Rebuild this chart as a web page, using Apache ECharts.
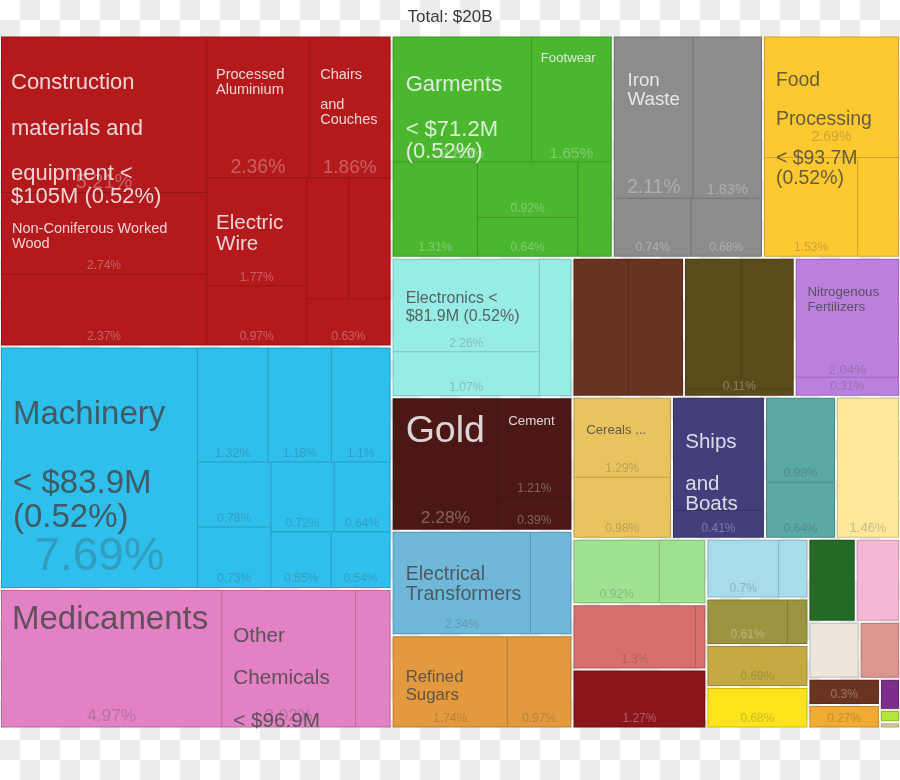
<!DOCTYPE html>
<html>
<head>
<meta charset="utf-8">
<script src="https://cdn.jsdelivr.net/npm/echarts@6/dist/echarts.min.js"></script>
<style>
html,body{margin:0;padding:0;}
body{width:900px;height:780px;overflow:hidden;background-color:#ffffff;
background-image:linear-gradient(45deg,#ececec 25%,transparent 25%,transparent 75%,#ececec 75%),linear-gradient(45deg,#ececec 25%,transparent 25%,transparent 75%,#ececec 75%);
background-size:40px 40px;background-position:0 0,20px 20px;}
#c{width:900px;height:780px;}
</style>
</head>
<body>
<div id="c"></div>
<script>
// ---------------- DATA ----------------
const titleText = "Total: $20B";

const groupNames = [
  "Construction materials and equipment", "Machinery", "Chemicals", "Textiles", "Metals",
  "Food Processing", "Electronics", "Category 8", "Category 9", "Fertilizers",
  "Gold and Cement", "Electrical Transformers", "Refined Sugars", "Cereals", "Ships and Boats",
  "Category 16", "Category 17", "Category 18", "Category 19", "Category 20",
  "Category 21", "Category 22", "Category 23", "Category 24", "Category 25",
  "Category 26", "Category 27", "Category 28", "Category 29", "Category 30",
  "Category 31", "Category 32", "Category 33"
];

// share of total exports (%), per product inside each group
const leafValues = [
  [5.21, 2.74, 2.37, 2.36, 1.86, 1.77, 0.97, 0.83, 0.82, 0.63],
  [7.69, 1.32, 1.18, 1.1, 0.78, 0.73, 0.72, 0.64, 0.55, 0.54],
  [4.97, 3.02, 0.78],
  [2.85, 1.65, 1.31, 0.92, 0.64, 0.52],
  [2.11, 1.83, 0.74, 0.68],
  [2.69, 1.53, 0.67],
  [2.26, 1.07, 0.72],
  [1.25, 1.24],
  [1.22, 1.14, 0.11],
  [2.04, 0.31],
  [2.28, 1.21, 0.39],
  [2.34, 0.69],
  [1.74, 0.97],
  [1.29, 0.98],
  [1.71, 0.41],
  [0.98, 0.64],
  [1.46],
  [0.92, 0.49],
  [1.3, 0.1],
  [1.27],
  [0.7, 0.28],
  [0.61, 0.15],
  [0.69],
  [0.68],
  [0.63],
  [0.59],
  [0.47],
  [0.37],
  [0.3],
  [0.27],
  [0.1],
  [0.04],
  [0.02]
];

const leafNames = [
  ["", "Non-Coniferous Worked Wood", "", "Processed Aluminium", "Chairs and Couches", "Electric Wire", "", "", "", ""],
  ["Machinery", "", "", "", "", "", "", "", "", ""],
  ["Medicaments", "Other Chemicals", ""],
  ["Garments", "Footwear", "", "", "", ""],
  ["Iron Waste", "", "", ""],
  ["Food Processing", "", ""],
  ["Electronics", "", ""],
  ["", ""],
  ["", "", ""],
  ["Nitrogenous Fertilizers", ""],
  ["Gold", "Cement", ""],
  ["Electrical Transformers", ""],
  ["Refined Sugars", ""],
  ["Cereals ...", ""],
  ["Ships and Boats", ""],
  ["", ""], [""], ["", ""], ["", ""], [""], ["", ""], ["", ""],
  [""], [""], [""], [""], [""], [""], [""], [""], [""], [""], [""]
];

// texts written on product cells: [group, product, text]
const leafNameLabels = [
  [0, 1, "Non-Coniferous Worked\nWood"],
  [0, 3, "Processed\nAluminium"],
  [0, 4, "Chairs\n\nand\nCouches"],
  [0, 5, "Electric\nWire"],
  [1, 0, "Machinery\n\n< $83.9M\n(0.52%)"],
  [2, 0, "Medicaments"],
  [2, 1, "Other\n\nChemicals\n\n< $96.9M"],
  [3, 0, "Garments\n\n< $71.2M\n(0.52%)"],
  [3, 1, "Footwear"],
  [4, 0, "Iron\nWaste"],
  [6, 0, "Electronics <\n$81.9M (0.52%)"],
  [9, 0, "Nitrogenous\nFertilizers"],
  [10, 0, "Gold"],
  [10, 1, "Cement"],
  [11, 0, "Electrical\nTransformers"],
  [12, 0, "Refined\nSugars"],
  [13, 0, "Cereals ..."],
  [14, 0, "Ships\n\nand\nBoats"]
];

// texts written on whole group cells: [group, text]
const groupNameLabels = [
  [0, "Construction\n\nmaterials and\n\nequipment <\n$105M (0.52%)"],
  [5, "Food\n\nProcessing\n\n< $93.7M\n(0.52%)"]
];

// percent of a product that is written at the bottom of its whole group: [group, product]
const groupPctLabels = [[8, 2]];

// products whose percent is not written
const hiddenPct = ["0-7","0-8","2-2","3-5","5-2","6-2","7-0","7-1","8-0","8-1","8-2","11-1","14-0",
  "17-1","18-1","20-1","21-1","24-0","25-0","26-0","27-0","30-0","31-0","32-0"];

// ---------------- STYLE ----------------
const FONT = '"Liberation Sans", Arial, Helvetica, sans-serif';
const COLORS = ["#b4191c","#2ebfed","#e282c4","#4bb72f","#8c8c8c","#fdc830","#98ece6","#68341f","#5b4a1a","#bb80de",
  "#4b1817","#6fb8da","#e3993e","#e8c35e","#433e7c","#5aa9a5","#fde89b","#a1e292","#d8706a","#8a151a",
  "#a8dcea","#9d9441","#c4aa40","#fde41a","#246a24","#f5b8d4","#ece6dc","#dd968f","#6b3420","#f1aa32",
  "#7c2f8a","#b5e53a","#d6c79c"];
const DARK_TEXT = [0,1,1,0,0,1,1,0,0,1,0,1,1,1,0,1,1,1,1,0,1,0,1,1,0,1,1,1,0,1,0,1,1];
const NAME_LIGHT = "rgba(247,247,247,0.85)";
const NAME_DARK = "rgba(68,68,68,0.82)";
const PCT_LIGHT = "rgba(247,247,247,0.32)";
const PCT_DARK = "rgba(68,68,68,0.27)";
const CLEAR = "rgba(0,0,0,0)";

const pctStyle = {
  "0-0": [20, 0], "0-3": [19.4, 0], "0-4": [19, 0],
  "1-0": [45.8, 7], "1-1": [12.6, 2],
  "2-0": [17.4, 1.4], "2-1": [17, 1.4],
  "3-0": [15.5, 0], "3-1": [15.5, 0],
  "4-0": [19.4, 0], "4-1": [14.5, 0],
  "5-0": [14, 13],
  "9-0": [13.3, 0],
  "10-0": [17.4, 1.5],
  "16-0": [13, 1.5]
};
// fontSize, lineHeight, dx, dy
const nameStyle = {
  "0-1": [14.5, 15, 10, 28],
  "0-3": [14.5, 15, 9, 29.5],
  "0-4": [14.5, 15, 10.5, 29.5],
  "0-5": [20.5, 21, 9, 35],
  "1-0": [33, 34.5, 11, 49],
  "2-0": [33, 33, 10, 12],
  "2-1": [20.7, 21.2, 11, 34.5],
  "3-0": [22, 22.5, 12, 36],
  "3-1": [13.2, 14, 9, 14],
  "4-0": [18.8, 19, 12.7, 34],
  "6-0": [16, 17.7, 12, 30.5],
  "9-0": [13.3, 15, 10.7, 25.5],
  "10-0": [37.5, 38, 12, 13],
  "10-1": [13.3, 14, 10, 15],
  "11-0": [19.6, 20, 12, 31.5],
  "12-0": [16.8, 17.6, 12, 31.5],
  "13-0": [13.2, 14, 11.7, 25],
  "14-0": [20.5, 20.7, 11.3, 33.5],
  "g0": [22, 22.8, 10, 35],
  "g5": [19.4, 19.7, 12, 34]
};

function shade(hex, k) {
  const n = parseInt(hex.slice(1), 16);
  const r = Math.round(((n >> 16) & 255) * (1 - k));
  const g = Math.round(((n >> 8) & 255) * (1 - k));
  const b = Math.round((n & 255) * (1 - k));
  return "rgb(" + r + "," + g + "," + b + ")";
}
const key = (g, i) => g + "-" + i;
const hidden = new Set(hiddenPct);
const leafText = {};
leafNameLabels.forEach(([g, i, t]) => { leafText[key(g, i)] = t; });
const groupText = {};
groupNameLabels.forEach(([g, t]) => { groupText[g] = t; });
const groupPct = {};
groupPctLabels.forEach(([g, i]) => { groupPct[g] = leafValues[g][i] + "%"; });
const groupSum = leafValues.map(a => +a.reduce((s, v) => s + v, 0).toFixed(4));

// ---------------- SERIES DATA ----------------
const dataRects = groupNames.map((gn, g) => ({
  name: gn,
  itemStyle: { color: COLORS[g], borderColor: shade(COLORS[g], 0.18), borderWidth: 1, gapWidth: 1 },
  children: leafValues[g].map((v, i) => {
    const k = key(g, i);
    const ps = pctStyle[k] || [12, 2];
    return {
      name: leafNames[g][i],
      value: v,
      itemStyle: { color: COLORS[g], borderColor: shade(COLORS[g], 0.18) },
      label: {
        show: !hidden.has(k),
        fontSize: ps[0], lineHeight: ps[0],
        padding: [0, 0, ps[1], 0],
        color: DARK_TEXT[g] ? PCT_DARK : PCT_LIGHT
      }
    };
  })
}));

const dataNames = groupNames.map((gn, g) => ({
  name: gn,
  itemStyle: { color: CLEAR, borderColor: CLEAR, borderWidth: 1, gapWidth: 1 },
  children: leafValues[g].map((v, i) => {
    const k = key(g, i);
    const t = leafText[k];
    const st = nameStyle[k];
    return {
      name: leafNames[g][i],
      value: v,
      itemStyle: { color: CLEAR, borderColor: CLEAR },
      label: t ? {
        show: true, formatter: t,
        fontSize: st[0], lineHeight: st[1], offset: [st[2], st[3]],
        color: DARK_TEXT[g] ? NAME_DARK : NAME_LIGHT
      } : { show: false }
    };
  })
}));

// one child per group, covering the whole group, to carry group-wide texts
const dataGroups = groupNames.map((gn, g) => {
  let label = { show: false };
  if (groupText[g] !== undefined) {
    const st = nameStyle["g" + g];
    label = { show: true, formatter: groupText[g], position: "insideTopLeft",
      fontSize: st[0], lineHeight: st[1], offset: [st[2] - 1, st[3] - 1],
      color: DARK_TEXT[g] ? NAME_DARK : NAME_LIGHT };
  } else if (groupPct[g] !== undefined) {
    label = { show: true, formatter: groupPct[g], position: "insideBottom",
      fontSize: 12, lineHeight: 12, padding: [0, 0, 2, 0],
      color: DARK_TEXT[g] ? PCT_DARK : PCT_LIGHT };
  }
  return {
    name: gn,
    itemStyle: { color: CLEAR, borderColor: CLEAR, borderWidth: 1, gapWidth: 1 },
    children: [{ name: gn, value: groupSum[g], itemStyle: { color: CLEAR, borderColor: CLEAR }, label }]
  };
});

// ---------------- CHART ----------------
const box = { left: 1, top: 36.5, width: 898, height: 691 };
const common = {
  type: "treemap",
  left: box.left, top: box.top, width: box.width, height: box.height,
  roam: false, nodeClick: false, animation: false,
  breadcrumb: { show: false },
  visibleMin: 1,
  upperLabel: { show: false }
};
const clearLevels = [
  { itemStyle: { borderWidth: 0, gapWidth: 2, borderColor: CLEAR, color: CLEAR } },
  { itemStyle: { borderWidth: 1, gapWidth: 1, borderColor: CLEAR, color: CLEAR } },
  { itemStyle: { borderWidth: 0, gapWidth: 0, borderColor: CLEAR, color: CLEAR } }
];

const chart = echarts.init(document.getElementById("c"), null, { renderer: "canvas" });
chart.setOption({
  animation: false,
  backgroundColor: "transparent",
  title: {
    text: titleText, left: "center", top: 4,
    textStyle: { fontSize: 17, fontWeight: "normal", color: "#3a3a3a", fontFamily: FONT }
  },
  series: [
    Object.assign({}, common, {
      name: "rects",
      data: dataRects,
      levels: [
        { itemStyle: { borderWidth: 0, gapWidth: 2, borderColor: CLEAR } },
        { itemStyle: { borderWidth: 1, gapWidth: 1 } },
        { itemStyle: { borderWidth: 0, gapWidth: 0 } }
      ],
      label: {
        show: true, position: "insideBottom", distance: 0, overflow: "none",
        fontFamily: FONT, formatter: p => p.value + "%"
      }
    }),
    Object.assign({}, common, {
      name: "names", silent: true,
      data: dataNames,
      levels: clearLevels,
      label: { show: true, position: "insideTopLeft", distance: 0, padding: 0, overflow: "none", fontFamily: FONT }
    }),
    Object.assign({}, common, {
      name: "groups", silent: true,
      data: dataGroups,
      levels: clearLevels,
      label: { show: true, distance: 0, padding: 0, overflow: "none", fontFamily: FONT }
    })
  ]
});
</script>
</body>
</html>
